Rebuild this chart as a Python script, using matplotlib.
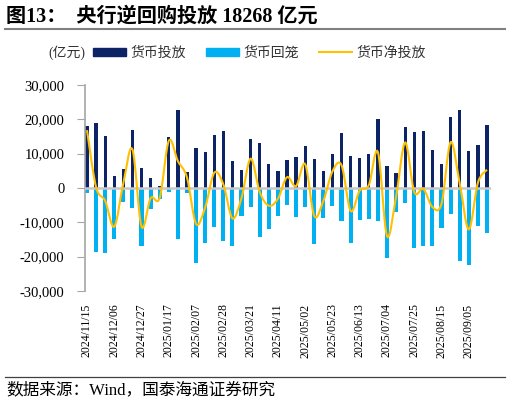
import numpy as np
import pandas as pd
import matplotlib
matplotlib.use("Agg")
import matplotlib.pyplot as plt
from matplotlib.path import Path
from matplotlib.patches import PathPatch, Patch
from matplotlib.lines import Line2D
from matplotlib.ticker import FuncFormatter

plt.rcParams['font.family'] = ['Liberation Serif', 'Noto Sans CJK SC']

# weekly data, 亿元
dates = pd.date_range("2024-11-15", periods=45, freq="7D").strftime("%Y/%m/%d").tolist()
injection = [17900, 18900, 15000, 3500, 5400, 16900, 5800, 2900, 500, 14800,
             22700, 4600, 11500, 10400, 15500, 16600, 7800, 5200, 14100, 13000,
             6900, 4900, 8100, 8900, 12300, 8400, 5000, 9800, 16100, 9200,
             8700, 9800, 20000, 6500, 4300, 17700, 16300, 16600, 11100, 7000,
             20700, 22600, 10600, 12500, 18268]
withdrawal = [-1400, -18800, -19000, -15000, -4000, -5900, -17000, -6200, -3200, -1300,
              -15000, -1600, -21800, -16100, -11300, -15600, -16900, -8100, -5700, -14200,
              -12100, -8100, -5000, -8400, -5500, -16400, -8800, -5200, -9700, -16100,
              -9500, -9000, -9700, -20400, -6900, -4500, -17500, -16900, -16900, -11600,
              -7500, -21300, -22600, -11000, -13000]
net = [16800, 200, -3800, -11300, 1400, 11200, -11300, -3000, -2900, 13700,
       7800, 3000, -10500, -5700, 4400, 1000, -8900, -2900, 8500, -1200,
       -5200, -3200, 3100, 500, 6900, -8200, -3800, 4800, 6600, -6700,
       -800, 800, 10400, -14000, -2600, 13200, -1200, -300, -5600, -4600,
       13300, 1300, -12100, 1500, 5300]

DARK, LIGHT, GOLD = "#0C2366", "#00B0F0", "#FFC000"


def smooth_path(x, y):
    """Excel-style smoothed line as cubic Bezier path through every point."""
    pts = np.column_stack([x, y]).astype(float)
    verts, codes = [pts[0]], [Path.MOVETO]
    n = len(pts)
    for i in range(n - 1):
        p0 = pts[max(i - 1, 0)]; p1 = pts[i]; p2 = pts[i + 1]; p3 = pts[min(i + 2, n - 1)]
        verts += [p1 + (p2 - p0) / 6, p2 - (p3 - p1) / 6, p2]
        codes += [Path.CURVE4] * 3
    return Path(verts, codes)


fig = plt.figure(figsize=(5.1, 4.04), dpi=100)
ax = fig.add_axes([0.167, 0.280, 0.795, 0.510])

x = np.arange(len(dates))
ax.bar(x, withdrawal, width=0.45, color=LIGHT, zorder=2)
ax.bar(x, injection, width=0.36, color=DARK, zorder=2)
ax.axhline(0, color="#C8C8C8", lw=1.8, zorder=3)
ax.add_patch(PathPatch(smooth_path(x, net), fill=False, edgecolor=GOLD, lw=1.5, zorder=4))

ax.set_xlim(-0.2, len(dates) - 0.6)
ax.set_ylim(-30000, 30000)
ax.set_yticks(np.arange(-30000, 30001, 10000))
ax.yaxis.set_major_formatter(FuncFormatter(lambda v, p: f"{int(v):,}"))
ax.set_xticks(x[::3])
ax.set_xticklabels(dates[::3], rotation=90, fontsize=8.5)
ax.tick_params(axis="x", length=0, pad=9)
ax.tick_params(axis="y", length=6, color="#A6A6A6", labelsize=10.5, pad=9)
for s in ["top", "right", "bottom"]:
    ax.spines[s].set_visible(False)
ax.spines["left"].set_color("#A6A6A6")
ax.spines["left"].set_linewidth(1.2)

handles = [Patch(color=DARK), Patch(color=LIGHT), Line2D([], [], color=GOLD, lw=1.5)]
leg = fig.legend(handles, ["货币投放", "货币回笼", "货币净投放"], ncol=3, frameon=False,
                 loc="center left", bbox_to_anchor=(0.182, 0.869), fontsize=10,
                 borderpad=0, borderaxespad=0,
                 handlelength=2.4, handleheight=0.55, handletextpad=0.3, columnspacing=1.45)
for t in leg.get_texts():
    t.set_color("#333333")
fig.text(0.094, 0.869, "(亿元)", fontsize=10, va="center", color="#333333")

fig.text(0.012, 0.958, "图13：  央行逆回购投放 18268 亿元", fontsize=14.5, fontweight="bold", va="center")
fig.add_artist(Line2D([0.01, 0.99], [0.928, 0.928], color="#808080", lw=1.5))
fig.add_artist(Line2D([0.01, 0.99], [0.067, 0.067], color="#404040", lw=0.9))
fig.text(0.012, 0.034, "数据来源：Wind，国泰海通证券研究", fontsize=12, va="center")

fig.savefig("out.png", dpi=100)
